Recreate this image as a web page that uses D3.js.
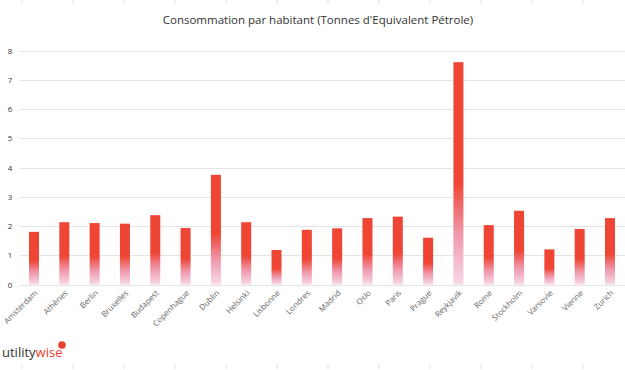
<!DOCTYPE html>
<html><head><meta charset="utf-8">
<script src="https://cdn.jsdelivr.net/npm/d3@7"></script>
<style>
html,body{margin:0;padding:0;background:#fff;}
svg{display:block;}
</style></head>
<body>
<script>
const title = "Consommation par habitant (Tonnes d'Equivalent Pétrole)";
const categories = ["Amsterdam","Athènes","Berlin","Bruxelles","Budapest","Copenhague","Dublin","Helsinki","Lisbonne","Londres","Madrid","Oslo","Paris","Prague","Reykjavik","Rome","Stockholm","Varsovie","Vienne","Zurich"];
const values = [1.8,2.13,2.1,2.08,2.37,1.93,3.75,2.13,1.18,1.87,1.92,2.27,2.32,1.6,7.6,2.03,2.52,1.2,1.9,2.27];
const yTicks = [0,1,2,3,4,5,6,7,8];

const W = 625, H = 370;
const svg = d3.select("body").append("svg").attr("width", W).attr("height", H);

const defs = svg.append("defs");
const grad = defs.append("linearGradient").attr("id","barGrad")
  .attr("x1",0).attr("y1",1).attr("x2",0).attr("y2",0);
grad.append("stop").attr("offset","0%").attr("stop-color","#f7d9e8");
grad.append("stop").attr("offset","22%").attr("stop-color","#f09aae");
grad.append("stop").attr("offset","46%").attr("stop-color","#ee4535");
grad.append("stop").attr("offset","100%").attr("stop-color","#ee4535");

// faint frame ticks top and bottom
const frameTicks = d3.range(22, W, 51);
svg.append("g").selectAll("line.tt").data(frameTicks).join("line")
  .attr("x1", d=>d).attr("x2", d=>d).attr("y1",0).attr("y2",3)
  .attr("stroke","#d8d8d8").attr("stroke-width",1);
svg.append("g").selectAll("line.bt").data(frameTicks).join("line")
  .attr("x1", d=>d).attr("x2", d=>d).attr("y1",365).attr("y2",369)
  .attr("stroke","#d8d8d8").attr("stroke-width",1);

const x = d3.scaleBand().domain(categories).range([19, 625]).paddingInner(0.67).paddingOuter(0.33);
const y = d3.scaleLinear().domain([0, 8]).range([284.5, 50.5]);

// title
svg.append("text").attr("x", 318).attr("y", 24).attr("text-anchor","middle")
  .attr("font-family","'Open Sans', Lato, sans-serif").attr("font-size", 11.5)
  .attr("fill","#333").text(title);

// gridlines
svg.append("g").selectAll("line").data(yTicks).join("line")
  .attr("x1", 20).attr("x2", W).attr("y1", d=>Math.round(y(d))+0.5).attr("y2", d=>Math.round(y(d))+0.5)
  .attr("stroke","#e4e4e4").attr("stroke-width",1);

// y axis labels
const yAxis = d3.axisLeft(y).tickValues(yTicks).tickSize(0).tickPadding(0).tickFormat(d3.format("d"));
const yg = svg.append("g").attr("transform","translate(10,0)").call(yAxis);
yg.select(".domain").remove();
yg.selectAll("text").attr("font-family","'Open Sans', sans-serif").attr("font-size",8).attr("fill","#333").attr("text-anchor","middle");

// bars
svg.append("g").selectAll("rect").data(values).join("rect")
  .attr("x", (d,i)=>x(categories[i]))
  .attr("width", x.bandwidth())
  .attr("y", d=>y(d))
  .attr("height", d=>y(0)-y(d))
  .attr("fill","url(#barGrad)");

// x axis labels
const xAxis = d3.axisBottom(x).tickSize(0).tickPadding(0);
const xg = svg.append("g").attr("transform", `translate(0,${y(0)})`).call(xAxis);
xg.select(".domain").remove();
xg.selectAll("text")
  .attr("font-family","'Open Sans', sans-serif").attr("font-size",8).attr("fill","#666")
  .attr("text-anchor","end").attr("dy",0)
  .attr("transform","translate(4,9) rotate(-45)");

// logo
const logo = svg.append("text").attr("x", 2).attr("y", 357)
  .attr("font-family","'Open Sans', Lato, sans-serif").attr("font-size", 13);
logo.append("tspan").attr("fill","#333").text("utility");
logo.append("tspan").attr("fill","#e8412e").text("wise");
svg.append("circle").attr("cx", 62).attr("cy", 345).attr("r", 3.8).attr("fill","#e8412e");
</script>
</body></html>
